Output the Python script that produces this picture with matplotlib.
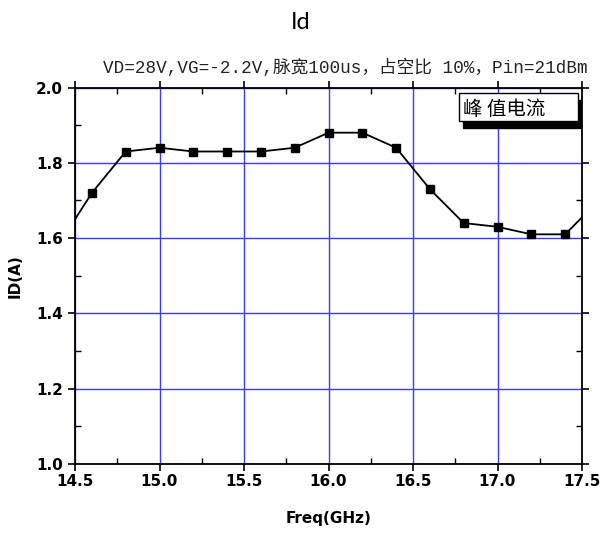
import matplotlib.pyplot as plt
import matplotlib.patches as mpatches
from matplotlib.ticker import MultipleLocator

plt.rcParams['font.family'] = ['DejaVu Sans', 'Noto Sans CJK SC']

# pulsed drain current vs frequency
freq = [14.4, 14.6, 14.8, 15.0, 15.2, 15.4, 15.6, 15.8, 16.0, 16.2, 16.4, 16.6, 16.8, 17.0, 17.2, 17.4, 17.6]
id_a = [1.58, 1.72, 1.83, 1.84, 1.83, 1.83, 1.83, 1.84, 1.88, 1.88, 1.84, 1.73, 1.64, 1.63, 1.61, 1.61, 1.70]

fig = plt.figure(figsize=(6.01, 5.33), dpi=100)
ax = fig.add_axes([75 / 601, 1 - 464 / 533, 507 / 601, 376.5 / 533])

ax.plot(freq, id_a, color='black', lw=1.3, marker='s', ms=5.5, mfc='black', mec='black')

ax.set_xlim(14.5, 17.5)
ax.set_ylim(1.0, 2.0)
ax.xaxis.set_major_locator(MultipleLocator(0.5))
ax.xaxis.set_minor_locator(MultipleLocator(0.25))
ax.yaxis.set_major_locator(MultipleLocator(0.2))
ax.yaxis.set_minor_locator(MultipleLocator(0.1))
ax.grid(True, which='major', color='#3a3aff', lw=1.0)
ax.set_axisbelow(True)

ax.tick_params(which='major', direction='out', length=5, width=1.2, labelsize=11)
ax.tick_params(which='minor', direction='in', length=4, width=1.0)
ax.tick_params(top=True, right=True, which='both', labeltop=False, labelright=False)
ax.tick_params(axis='x', pad=2)
for lab in ax.get_xticklabels() + ax.get_yticklabels():
    lab.set_fontweight('bold')
for sp in ax.spines.values():
    sp.set_linewidth(1.3)

ax.set_xlabel('Freq(GHz)', fontsize=11, fontweight='bold', labelpad=16)
ax.set_ylabel('ID(A)', fontsize=11, fontweight='bold', labelpad=10)

fig.text(0.5, 0.958, 'Id', ha='center', va='center', fontsize=17, family='Lato',
         fontweight='normal', color='black')
fig.text(0.574, 0.873, 'VD=28V,VG=-2.2V,脉宽100us，占空比 10%，Pin=21dBm',
         ha='center', va='center', fontsize=12.7,
         family=['Liberation Mono', 'Noto Sans CJK SC'], color='#222222')

# label box with drop shadow
bx, by, bw, bh = 0.757, 0.911, 0.235, 0.074
shadow = mpatches.Rectangle((bx + 0.008, by - 0.019), bw, bh, transform=ax.transAxes,
                            facecolor='black', edgecolor='black', zorder=4)
box = mpatches.Rectangle((bx, by), bw, bh, transform=ax.transAxes,
                         facecolor='white', edgecolor='black', lw=1.0, zorder=5)
ax.add_patch(shadow)
ax.add_patch(box)
ax.text(bx + 0.008, by + bh / 2 - 0.006, '峰 值电流', transform=ax.transAxes, ha='left', va='center',
        fontsize=14, family=['Noto Sans CJK SC', 'DejaVu Sans'], zorder=6)

fig.savefig('out.png', dpi=100)
